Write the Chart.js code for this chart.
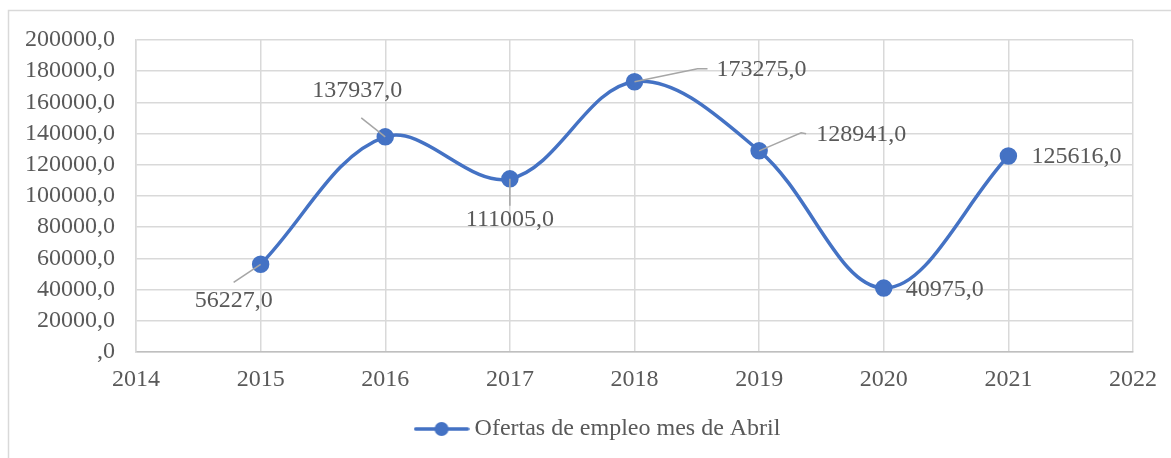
<!DOCTYPE html>
<html>
<head>
<meta charset="utf-8">
<script src="https://cdn.jsdelivr.net/npm/chart.js@4.4.0/dist/chart.umd.min.js"></script>
<style>
    html, body { margin: 0; padding: 0; background: #fff; }
    #wrap { position: relative; width: 1171px; height: 458px; }
</style>
</head>
<body>
<div id="wrap"><canvas id="line-chart"></canvas></div>
<script>
// data
const years = [2015, 2016, 2017, 2018, 2019, 2020, 2021];
const ofertas = [56227, 137937, 111005, 173275, 128941, 40975, 125616];
const seriesLabel = 'Ofertas de empleo mes de Abril';
const xRange = [2014, 2022];
const yRange = [0, 200000];
const yStep = 20000;

const blue = '#4472C4';
const textColor = '#595959';
const gridColor = '#d9d9d9';
const serif = "'Times New Roman', 'Liberation Serif', serif";
const fontSize = 24;

// where each data label sits relative to its point (px), plus leader line
const labelPlacement = [
    {dx: -27, dy: 36, leader: [[0, 0], [-27, 18]]},
    {dx: -28, dy: -46, leader: [[0, 0], [-24, -19]]},
    {dx: 0, dy: 41, leader: [[0, 0], [0, 27]]},
    {dx: 127, dy: -12, leader: [[0, 0], [63, -13], [73, -13]]},
    {dx: 102, dy: -16, leader: [[0, 0], [42, -18], [47, -17]]},
    {dx: 61, dy: 2, leader: null},
    {dx: 68, dy: 1, leader: null}
];

function fmt(v) {
    return v === 0 ? ',0' : v + ',0';
}

// legend symbol: line with a dot in the middle
function legendSymbol() {
    const c = document.createElement('canvas');
    c.width = 56;
    c.height = 16;
    const ctx = c.getContext('2d');
    ctx.strokeStyle = blue;
    ctx.lineWidth = 3.5;
    ctx.lineCap = 'round';
    ctx.beginPath();
    ctx.moveTo(2, 8);
    ctx.lineTo(54, 8);
    ctx.stroke();
    ctx.fillStyle = blue;
    ctx.beginPath();
    ctx.arc(28, 8, 7, 0, Math.PI * 2);
    ctx.fill();
    return c;
}

const frame = {
    id: 'frame',
    afterLayout(chart) {
        // legend sits a bit right of the canvas centre
        chart.legend.left += 34;
        chart.legend.right += 34;
    },
    beforeDraw(chart) {
        const ctx = chart.ctx;
        ctx.save();
        ctx.strokeStyle = gridColor;
        ctx.lineWidth = 1.5;
        ctx.strokeRect(8.5, 10.5, 1250, 520);
        ctx.restore();
    }
};

const dataLabels = {
    id: 'dataLabels',
    afterDatasetsDraw(chart) {
        const ctx = chart.ctx;
        const meta = chart.getDatasetMeta(0);
        ctx.save();
        meta.data.forEach((pt, i) => {
            const p = labelPlacement[i];
            if (p.leader) {
                ctx.strokeStyle = '#a6a6a6';
                ctx.lineWidth = 1.5;
                ctx.beginPath();
                p.leader.forEach((q, k) => {
                    if (k === 0) ctx.moveTo(pt.x + q[0], pt.y + q[1]);
                    else ctx.lineTo(pt.x + q[0], pt.y + q[1]);
                });
                ctx.stroke();
            }
            ctx.fillStyle = textColor;
            ctx.font = fontSize + 'px ' + serif;
            ctx.textAlign = 'center';
            ctx.textBaseline = 'middle';
            ctx.fillText(fmt(ofertas[i]), pt.x + p.dx, pt.y + p.dy);
        });
        ctx.restore();
    }
};

Chart.defaults.font.family = serif;
Chart.defaults.color = textColor;

new Chart(document.getElementById('line-chart').getContext('2d'), {
    type: 'line',
    data: {
        datasets: [{
            label: seriesLabel,
            data: years.map((y, i) => ({x: y, y: ofertas[i]})),
            borderColor: blue,
            backgroundColor: blue,
            borderWidth: 3.5,
            pointRadius: 7,
            pointHoverRadius: 7,
            pointBackgroundColor: blue,
            pointBorderColor: blue,
            tension: 0.36,
            fill: false
        }]
    },
    options: {
        responsive: true,
        maintainAspectRatio: false,
        animation: false,
        layout: {
            padding: {top: 40, right: 38, left: 0, bottom: 7}
        },
        plugins: {
            legend: {
                position: 'bottom',
                labels: {
                    usePointStyle: true,
                    pointStyle: legendSymbol(),
                    pointStyleWidth: 42,
                    color: textColor,
                    font: {size: fontSize, family: serif},
                    padding: 10
                }
            },
            tooltip: {enabled: false}
        },
        scales: {
            x: {
                type: 'linear',
                min: xRange[0],
                max: xRange[1],
                ticks: {
                    stepSize: 1,
                    padding: 13,
                    color: textColor,
                    font: {size: fontSize},
                    callback: v => String(v)
                },
                grid: {color: gridColor, lineWidth: 1.5, drawTicks: false},
                border: {color: '#bfbfbf', width: 1.5},
                afterFit: scale => { scale.height = 55; }
            },
            y: {
                min: yRange[0],
                max: yRange[1],
                ticks: {
                    stepSize: yStep,
                    autoSkip: false,
                    padding: 21,
                    color: textColor,
                    font: {size: fontSize},
                    callback: v => fmt(v)
                },
                grid: {color: gridColor, lineWidth: 1.5, drawTicks: false},
                border: {color: gridColor, width: 1.5},
                afterFit: scale => { scale.width = 136; }
            }
        }
    },
    plugins: [frame, dataLabels]
});
</script>
</body>
</html>
